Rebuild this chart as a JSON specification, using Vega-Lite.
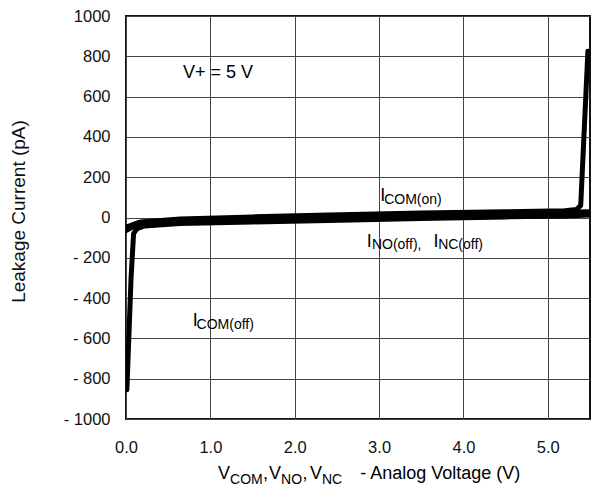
{
  "$schema": "https://vega.github.io/schema/vega-lite/v6.json",
  "autosize": "none",
  "width": 464,
  "height": 403,
  "padding": {"left": 126, "top": 16, "right": 10, "bottom": 78},
  "background": "white",
  "config": {
    "font": "Liberation Sans",
    "view": {"stroke": "#111", "strokeWidth": 2},
    "axis": {"labelFont": "Liberation Sans", "titleFont": "Liberation Sans", "labelColor": "#111", "titleColor": "#111", "gridColor": "#444", "gridWidth": 1, "gridOpacity": 1, "ticks": false, "domain": false, "labelFontSize": 16.5, "labelFlush": false}
  },
  "datasets": {
    "curves": [
      {"series": "ICOM(off)", "v": 0.01, "I": -855},
      {"series": "ICOM(off)", "v": 0.06, "I": -300},
      {"series": "ICOM(off)", "v": 0.09, "I": -80},
      {"series": "ICOM(off)", "v": 0.13, "I": -55},
      {"series": "ICOM(off)", "v": 0.22, "I": -42},
      {"series": "ICOM(off)", "v": 0.64, "I": -30},
      {"series": "ICOM(off)", "v": 1.5, "I": -22},
      {"series": "ICOM(off)", "v": 2.4, "I": -15},
      {"series": "ICOM(off)", "v": 3.5, "I": -5},
      {"series": "ICOM(off)", "v": 4.5, "I": 3},
      {"series": "ICOM(off)", "v": 5.2, "I": 8},
      {"series": "ICOM(off)", "v": 5.5, "I": 12},
      {"series": "ICOM(on)", "v": 0.0, "I": -55},
      {"series": "ICOM(on)", "v": 0.08, "I": -38},
      {"series": "ICOM(on)", "v": 0.18, "I": -22},
      {"series": "ICOM(on)", "v": 0.64, "I": -8},
      {"series": "ICOM(on)", "v": 1.5, "I": 3},
      {"series": "ICOM(on)", "v": 2.4, "I": 13},
      {"series": "ICOM(on)", "v": 3.5, "I": 22},
      {"series": "ICOM(on)", "v": 4.5, "I": 28},
      {"series": "ICOM(on)", "v": 5.2, "I": 34},
      {"series": "ICOM(on)", "v": 5.34, "I": 40},
      {"series": "ICOM(on)", "v": 5.39, "I": 60},
      {"series": "ICOM(on)", "v": 5.475, "I": 825},
      {"series": "INO(off)", "v": 0.0, "I": -65},
      {"series": "INO(off)", "v": 0.1, "I": -42},
      {"series": "INO(off)", "v": 0.25, "I": -28},
      {"series": "INO(off)", "v": 0.64, "I": -20},
      {"series": "INO(off)", "v": 2.4, "I": -2},
      {"series": "INO(off)", "v": 4.0, "I": 10},
      {"series": "INO(off)", "v": 5.2, "I": 20},
      {"series": "INO(off)", "v": 5.5, "I": 22},
      {"series": "INC(off)", "v": 0.0, "I": -48},
      {"series": "INC(off)", "v": 0.15, "I": -25},
      {"series": "INC(off)", "v": 0.64, "I": -14},
      {"series": "INC(off)", "v": 2.4, "I": 4},
      {"series": "INC(off)", "v": 5.2, "I": 26},
      {"series": "INC(off)", "v": 5.5, "I": 28}
    ],
    "notes": [
      {"kind": "main", "text": "V+ = 5 V", "v": 0.676, "I": 690},
      {"kind": "main", "text": "I", "v": 3.013, "I": 83},
      {"kind": "sub", "text": "COM(on)", "v": 3.06, "I": 68},
      {"kind": "main", "text": "I", "v": 2.855, "I": -144},
      {"kind": "sub", "text": "NO(off),", "v": 2.915, "I": -158},
      {"kind": "main", "text": "I", "v": 3.645, "I": -144},
      {"kind": "sub", "text": "NC(off)", "v": 3.70, "I": -158},
      {"kind": "main", "text": "I", "v": 0.79, "I": -540},
      {"kind": "sub", "text": "COM(off)", "v": 0.837, "I": -555},
      {"kind": "main", "text": "V", "v": 1.09, "I": -1300},
      {"kind": "sub", "text": "COM", "v": 1.233, "I": -1325},
      {"kind": "main", "text": ",", "v": 1.625, "I": -1300},
      {"kind": "main", "text": "V", "v": 1.695, "I": -1300},
      {"kind": "sub", "text": "NO", "v": 1.838, "I": -1325},
      {"kind": "main", "text": ",", "v": 2.092, "I": -1300},
      {"kind": "main", "text": "V", "v": 2.18, "I": -1300},
      {"kind": "sub", "text": "NC", "v": 2.323, "I": -1325},
      {"kind": "main", "text": "- Analog Voltage (V)", "v": 2.776, "I": -1300}
    ]
  },
  "layer": [
    {
      "data": {"name": "curves"},
      "mark": {"type": "line", "color": "#000", "strokeWidth": 5, "strokeJoin": "round", "strokeCap": "round", "clip": true},
      "encoding": {
        "x": {"field": "v", "type": "quantitative", "scale": {"domain": [0, 5.5], "nice": false, "zero": false},
          "axis": {"values": [0, 1, 2, 3, 4, 5], "format": ".1f", "title": null, "labelPadding": 20, "grid": true}},
        "y": {"field": "I", "type": "quantitative", "scale": {"domain": [-1000, 1000], "nice": false},
          "axis": {"values": [-1000, -800, -600, -400, -200, 0, 200, 400, 600, 800, 1000], "labelExpr": "datum.value < 0 ? '- ' + abs(datum.value) : '' + datum.value", "labelPadding": 16, "title": "Leakage Current  (pA)", "titleFontSize": 19, "titleFontWeight": "normal", "titleX": -108, "titleY": 195, "titleAlign": "center", "titleBaseline": "middle", "titleAngle": -90, "grid": true}},
        "detail": {"field": "series"}
      }
    },
    {
      "data": {"name": "notes"},
      "transform": [{"filter": "datum.kind === 'main'"}],
      "mark": {"type": "text", "align": "left", "baseline": "alphabetic", "fontSize": 18, "color": "#000", "font": "Liberation Sans"},
      "encoding": {
        "x": {"field": "v", "type": "quantitative"},
        "y": {"field": "I", "type": "quantitative"},
        "text": {"field": "text"}
      }
    },
    {
      "data": {"name": "notes"},
      "transform": [{"filter": "datum.kind === 'sub'"}],
      "mark": {"type": "text", "align": "left", "baseline": "alphabetic", "fontSize": 14, "color": "#000", "font": "Liberation Sans"},
      "encoding": {
        "x": {"field": "v", "type": "quantitative"},
        "y": {"field": "I", "type": "quantitative"},
        "text": {"field": "text"}
      }
    }
  ]
}
